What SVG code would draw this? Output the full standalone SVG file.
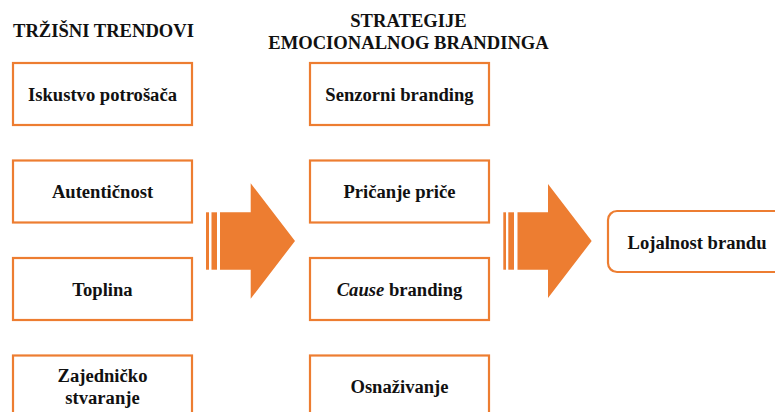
<svg xmlns="http://www.w3.org/2000/svg" width="775" height="412" viewBox="0 0 775 412">
<style>
.box{fill:#fff;stroke:#ED7D31;stroke-width:2.2}
.t{font-family:"Liberation Serif","Times New Roman",serif;font-weight:bold;font-size:18.6px;fill:#111}
.c{text-anchor:middle}
.arr{fill:#ED7D31}
</style>
<rect width="775" height="412" fill="#fff"/>
<text class="t" x="13" y="36.5">TRŽIŠNI TRENDOVI</text>
<text class="t c" x="408.5" y="26.5">STRATEGIJE</text>
<text class="t c" x="408.5" y="49">EMOCIONALNOG BRANDINGA</text>
<g id="n1"><rect class="box" x="13" y="63" width="179" height="62"/><text class="t c" x="102.5" y="100.5">Iskustvo potrošača</text></g>
<g id="n2"><rect class="box" x="13" y="160.5" width="179" height="62"/><text class="t c" x="102.5" y="198">Autentičnost</text></g>
<g id="n3"><rect class="box" x="13" y="258" width="179" height="62"/><text class="t c" x="102.5" y="295.5">Toplina</text></g>
<g id="n4"><rect class="box" x="13" y="355.5" width="179" height="62"/><text class="t c" x="102.5" y="381.5">Zajedničko</text><text class="t c" x="102.5" y="404">stvaranje</text></g>
<g id="m1"><rect class="box" x="310" y="63" width="179" height="62"/><text class="t c" x="399.5" y="100.5">Senzorni branding</text></g>
<g id="m2"><rect class="box" x="310" y="160.5" width="179" height="62"/><text class="t c" x="399.5" y="198">Pričanje priče</text></g>
<g id="m3"><rect class="box" x="310" y="258" width="179" height="62"/><text class="t c" x="399.5" y="295.5"><tspan font-style="italic">Cause</tspan> branding</text></g>
<g id="m4"><rect class="box" x="310" y="355.5" width="179" height="62"/><text class="t c" x="399.5" y="393">Osnaživanje</text></g>
<g id="r1"><rect class="box" x="608" y="211" width="180" height="61" rx="9"/><text class="t c" x="697" y="248.5">Lojalnost brandu</text></g>
<g id="connectors">
<g id="a1">
<rect class="arr" x="206" y="212.3" width="3" height="57.4"/>
<rect class="arr" x="211.5" y="212.3" width="5.5" height="57.4"/>
<polygon class="arr" points="220,212.3 250.7,212.3 250.7,183.3 295,241 250.7,298.7 250.7,269.7 220,269.7"/>
</g>
<g id="a2">
<rect class="arr" x="503.3" y="212.3" width="2.7" height="57.4"/>
<rect class="arr" x="508.3" y="212.3" width="5.7" height="57.4"/>
<polygon class="arr" points="517.5,212.3 548,212.3 548,184 591.7,241 548,298 548,269.7 517.5,269.7"/>
</g>
</g>
</svg>
